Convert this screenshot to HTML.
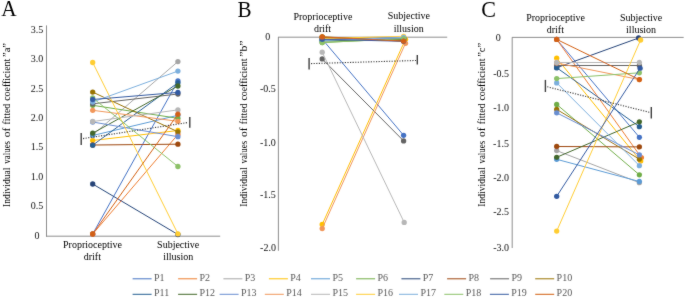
<!DOCTYPE html>
<html><head><meta charset="utf-8"><style>
html,body{margin:0;padding:0;background:#fff;}
body{width:685px;height:298px;overflow:hidden;}
svg{display:block;font-family:"Liberation Serif",serif;will-change:transform;}
</style></head><body>
<svg width="685" height="298" viewBox="0 0 685 298" font-family="Liberation Serif, serif">
<defs><filter id="bl" filterUnits="userSpaceOnUse" x="0" y="0" width="685" height="298"><feConvolveMatrix order="3" kernelMatrix="0.015 0.06 0.015 0.06 0.7 0.06 0.015 0.06 0.015" preserveAlpha="false"/></filter></defs>
<rect width="685" height="298" fill="#fff"/>
<g filter="url(#bl)">
<text transform="translate(1.2,16.2) scale(0.97,1.09)" font-size="22" fill="#000">A</text>
<line x1="46.5" y1="25.4" x2="46.5" y2="236.7" stroke="#8E8E8E" stroke-width="1" />
<line x1="46" y1="236.2" x2="220.2" y2="236.2" stroke="#8E8E8E" stroke-width="1" />
<text x="37" y="238.5" font-size="10" text-anchor="middle" fill="#111" >0</text>
<text x="37" y="209.13" font-size="10" text-anchor="middle" fill="#111" >0.5</text>
<text x="37" y="179.75" font-size="10" text-anchor="middle" fill="#111" >1.0</text>
<text x="37" y="150.38" font-size="10" text-anchor="middle" fill="#111" >1.5</text>
<text x="37" y="121.0" font-size="10" text-anchor="middle" fill="#111" >2.0</text>
<text x="37" y="91.63" font-size="10" text-anchor="middle" fill="#111" >2.5</text>
<text x="37" y="62.25" font-size="10" text-anchor="middle" fill="#111" >3.0</text>
<text x="37" y="32.88" font-size="10" text-anchor="middle" fill="#111" >3.5</text>
<text transform="translate(10.4,206.9) rotate(-90)" font-size="10" fill="#000"><tspan x="0" y="0" textLength="39.4" lengthAdjust="spacingAndGlyphs">Individual</tspan><tspan x="43.1" y="0" textLength="22.9" lengthAdjust="spacingAndGlyphs">values</tspan><tspan x="69.7" y="0" textLength="9.6" lengthAdjust="spacingAndGlyphs">of</tspan><tspan x="82.5" y="0" textLength="20.6" lengthAdjust="spacingAndGlyphs">fitted</tspan><tspan x="106.1" y="0" textLength="42.0" lengthAdjust="spacingAndGlyphs">coefficient</tspan><tspan x="149.9" y="0" textLength="14.0" lengthAdjust="spacingAndGlyphs">”a”</tspan></text>
<text x="92.5" y="248.1" font-size="10" text-anchor="middle" fill="#000" >Proprioceptive</text>
<text x="92.3" y="260.3" font-size="10" text-anchor="middle" fill="#000" >drift</text>
<text x="178.2" y="248.1" font-size="10" text-anchor="middle" fill="#000" >Subjective</text>
<text x="178.2" y="260.3" font-size="10" text-anchor="middle" fill="#000" >illusion</text>
<line x1="92.7" y1="234" x2="177.9" y2="81" stroke="#4472C4" stroke-width="1" />
<circle cx="92.7" cy="234" r="2.65" fill="#4472C4"/>
<circle cx="177.9" cy="81" r="2.65" fill="#4472C4"/>
<line x1="92.7" y1="234" x2="177.9" y2="134.5" stroke="#ED7D31" stroke-width="1" />
<circle cx="92.7" cy="234" r="2.65" fill="#ED7D31"/>
<circle cx="177.9" cy="134.5" r="2.65" fill="#ED7D31"/>
<line x1="92.7" y1="135" x2="177.9" y2="61.6" stroke="#A5A5A5" stroke-width="1" />
<circle cx="92.7" cy="135" r="2.65" fill="#A5A5A5"/>
<circle cx="177.9" cy="61.6" r="2.65" fill="#A5A5A5"/>
<line x1="92.7" y1="140.5" x2="177.9" y2="130.5" stroke="#FFC000" stroke-width="1" />
<circle cx="92.7" cy="140.5" r="2.65" fill="#FFC000"/>
<circle cx="177.9" cy="130.5" r="2.65" fill="#FFC000"/>
<line x1="92.7" y1="135.5" x2="177.9" y2="115.3" stroke="#5B9BD5" stroke-width="1" />
<circle cx="92.7" cy="135.5" r="2.65" fill="#5B9BD5"/>
<circle cx="177.9" cy="115.3" r="2.65" fill="#5B9BD5"/>
<line x1="92.7" y1="105.3" x2="177.9" y2="118.3" stroke="#70AD47" stroke-width="1" />
<circle cx="92.7" cy="105.3" r="2.65" fill="#70AD47"/>
<circle cx="177.9" cy="118.3" r="2.65" fill="#70AD47"/>
<line x1="92.7" y1="184" x2="177.9" y2="234.5" stroke="#264478" stroke-width="1" />
<circle cx="92.7" cy="184" r="2.65" fill="#264478"/>
<circle cx="177.9" cy="234.5" r="2.65" fill="#264478"/>
<line x1="92.7" y1="145" x2="177.9" y2="144.2" stroke="#9E480E" stroke-width="1" />
<circle cx="92.7" cy="145" r="2.65" fill="#9E480E"/>
<circle cx="177.9" cy="144.2" r="2.65" fill="#9E480E"/>
<line x1="92.7" y1="103.8" x2="177.9" y2="94" stroke="#636363" stroke-width="1" />
<circle cx="92.7" cy="103.8" r="2.65" fill="#636363"/>
<circle cx="177.9" cy="94" r="2.65" fill="#636363"/>
<line x1="92.7" y1="92.1" x2="177.9" y2="131.8" stroke="#997300" stroke-width="1" />
<circle cx="92.7" cy="92.1" r="2.65" fill="#997300"/>
<circle cx="177.9" cy="131.8" r="2.65" fill="#997300"/>
<line x1="92.7" y1="145.2" x2="177.9" y2="82.8" stroke="#255E91" stroke-width="1" />
<circle cx="92.7" cy="145.2" r="2.65" fill="#255E91"/>
<circle cx="177.9" cy="82.8" r="2.65" fill="#255E91"/>
<line x1="92.7" y1="133.2" x2="177.9" y2="86" stroke="#43682B" stroke-width="1" />
<circle cx="92.7" cy="133.2" r="2.65" fill="#43682B"/>
<circle cx="177.9" cy="86" r="2.65" fill="#43682B"/>
<line x1="92.7" y1="122" x2="177.9" y2="136.7" stroke="#698ED0" stroke-width="1" />
<circle cx="92.7" cy="122" r="2.65" fill="#698ED0"/>
<circle cx="177.9" cy="136.7" r="2.65" fill="#698ED0"/>
<line x1="92.7" y1="110.3" x2="177.9" y2="121.3" stroke="#F1975A" stroke-width="1" />
<circle cx="92.7" cy="110.3" r="2.65" fill="#F1975A"/>
<circle cx="177.9" cy="121.3" r="2.65" fill="#F1975A"/>
<line x1="92.7" y1="121.5" x2="177.9" y2="109.9" stroke="#B7B7B7" stroke-width="1" />
<circle cx="92.7" cy="121.5" r="2.65" fill="#B7B7B7"/>
<circle cx="177.9" cy="109.9" r="2.65" fill="#B7B7B7"/>
<line x1="92.7" y1="62.5" x2="177.9" y2="233.8" stroke="#FFCD33" stroke-width="1" />
<circle cx="92.7" cy="62.5" r="2.65" fill="#FFCD33"/>
<circle cx="177.9" cy="233.8" r="2.65" fill="#FFCD33"/>
<line x1="92.7" y1="102" x2="177.9" y2="71.1" stroke="#7CAFDD" stroke-width="1" />
<circle cx="92.7" cy="102" r="2.65" fill="#7CAFDD"/>
<circle cx="177.9" cy="71.1" r="2.65" fill="#7CAFDD"/>
<line x1="92.7" y1="97.9" x2="177.9" y2="166.5" stroke="#8CC168" stroke-width="1" />
<circle cx="92.7" cy="97.9" r="2.65" fill="#8CC168"/>
<circle cx="177.9" cy="166.5" r="2.65" fill="#8CC168"/>
<line x1="92.7" y1="99.5" x2="177.9" y2="92.4" stroke="#335AA1" stroke-width="1" />
<circle cx="92.7" cy="99.5" r="2.65" fill="#335AA1"/>
<circle cx="177.9" cy="92.4" r="2.65" fill="#335AA1"/>
<line x1="92.7" y1="234" x2="177.9" y2="114.2" stroke="#D26012" stroke-width="1" />
<circle cx="92.7" cy="234" r="2.65" fill="#D26012"/>
<circle cx="177.9" cy="114.2" r="2.65" fill="#D26012"/>
<line x1="83" y1="138.6" x2="188" y2="122.5" stroke="#3a3a3a" stroke-width="1.1" stroke-dasharray="1.2 1.4"/>
<line x1="81.2" y1="133" x2="81.2" y2="145" stroke="#404040" stroke-width="1.4" />
<line x1="189.8" y1="117" x2="189.8" y2="127.7" stroke="#404040" stroke-width="1.4" />
<text transform="translate(237.5,16.5) scale(0.96,1.09)" font-size="22" fill="#000">B</text>
<line x1="278.4" y1="37" x2="278.4" y2="250.8" stroke="#8E8E8E" stroke-width="1" />
<line x1="278" y1="37.2" x2="447.2" y2="37.2" stroke="#8E8E8E" stroke-width="1" />
<text x="267.8" y="39.9" font-size="10" text-anchor="middle" fill="#111" >0</text>
<text x="267.8" y="92.2" font-size="10" text-anchor="middle" fill="#111" >-0.5</text>
<text x="267.9" y="145.5" font-size="10" text-anchor="middle" fill="#111" >-1.0</text>
<text x="267.9" y="198.1" font-size="10" text-anchor="middle" fill="#111" >-1.5</text>
<text x="268" y="250.7" font-size="10" text-anchor="middle" fill="#111" >-2.0</text>
<text transform="translate(247.2,206.7) rotate(-90)" font-size="10" fill="#000"><tspan x="0" y="0" textLength="39.4" lengthAdjust="spacingAndGlyphs">Individual</tspan><tspan x="43.1" y="0" textLength="22.9" lengthAdjust="spacingAndGlyphs">values</tspan><tspan x="69.7" y="0" textLength="9.6" lengthAdjust="spacingAndGlyphs">of</tspan><tspan x="82.5" y="0" textLength="20.6" lengthAdjust="spacingAndGlyphs">fitted</tspan><tspan x="106.1" y="0" textLength="42.0" lengthAdjust="spacingAndGlyphs">coefficient</tspan><tspan x="149.9" y="0" textLength="16.3" lengthAdjust="spacingAndGlyphs">”b”</tspan></text>
<text x="322.9" y="19.8" font-size="10" text-anchor="middle" fill="#000" >Proprioceptive</text>
<text x="322.5" y="31.7" font-size="10" text-anchor="middle" fill="#000" >drift</text>
<text x="408.9" y="19.1" font-size="10" text-anchor="middle" fill="#000" >Subjective</text>
<text x="408.8" y="31.6" font-size="10" text-anchor="middle" fill="#000" >illusion</text>
<line x1="322.2" y1="39.1" x2="403.6" y2="135.3" stroke="#4472C4" stroke-width="1" />
<circle cx="322.2" cy="39.1" r="2.65" fill="#4472C4"/>
<circle cx="403.6" cy="135.3" r="2.65" fill="#4472C4"/>
<line x1="322.2" y1="37.2" x2="403.6" y2="41.3" stroke="#ED7D31" stroke-width="1" />
<circle cx="322.2" cy="37.2" r="2.65" fill="#ED7D31"/>
<circle cx="403.6" cy="41.3" r="2.65" fill="#ED7D31"/>
<line x1="322.2" y1="38" x2="403.6" y2="38" stroke="#A5A5A5" stroke-width="1" />
<circle cx="322.2" cy="38" r="2.65" fill="#A5A5A5"/>
<circle cx="403.6" cy="38" r="2.65" fill="#A5A5A5"/>
<line x1="322.2" y1="224.5" x2="405.5" y2="39.2" stroke="#FFC000" stroke-width="1" />
<circle cx="322.2" cy="224.5" r="2.65" fill="#FFC000"/>
<circle cx="405.5" cy="39.2" r="2.65" fill="#FFC000"/>
<line x1="322.2" y1="40" x2="403.6" y2="37.8" stroke="#5B9BD5" stroke-width="1" />
<circle cx="322.2" cy="40" r="2.65" fill="#5B9BD5"/>
<circle cx="403.6" cy="37.8" r="2.65" fill="#5B9BD5"/>
<line x1="322.2" y1="42.5" x2="403.6" y2="38.6" stroke="#70AD47" stroke-width="1" />
<circle cx="322.2" cy="42.5" r="2.65" fill="#70AD47"/>
<circle cx="403.6" cy="38.6" r="2.65" fill="#70AD47"/>
<line x1="322.2" y1="38.5" x2="403.6" y2="38" stroke="#264478" stroke-width="1" />
<circle cx="322.2" cy="38.5" r="2.65" fill="#264478"/>
<circle cx="403.6" cy="38" r="2.65" fill="#264478"/>
<line x1="322.2" y1="37.5" x2="403.6" y2="40.5" stroke="#9E480E" stroke-width="1" />
<circle cx="322.2" cy="37.5" r="2.65" fill="#9E480E"/>
<circle cx="403.6" cy="40.5" r="2.65" fill="#9E480E"/>
<line x1="322.2" y1="58.9" x2="403.6" y2="140.9" stroke="#636363" stroke-width="1" />
<circle cx="322.2" cy="58.9" r="2.65" fill="#636363"/>
<circle cx="403.6" cy="140.9" r="2.65" fill="#636363"/>
<line x1="322.2" y1="37" x2="403.6" y2="39.5" stroke="#997300" stroke-width="1" />
<circle cx="322.2" cy="37" r="2.65" fill="#997300"/>
<circle cx="403.6" cy="39.5" r="2.65" fill="#997300"/>
<line x1="322.2" y1="39.5" x2="403.6" y2="38" stroke="#255E91" stroke-width="1" />
<circle cx="322.2" cy="39.5" r="2.65" fill="#255E91"/>
<circle cx="403.6" cy="38" r="2.65" fill="#255E91"/>
<line x1="322.2" y1="41" x2="403.6" y2="38.8" stroke="#43682B" stroke-width="1" />
<circle cx="322.2" cy="41" r="2.65" fill="#43682B"/>
<circle cx="403.6" cy="38.8" r="2.65" fill="#43682B"/>
<line x1="322.2" y1="40" x2="403.6" y2="38.2" stroke="#698ED0" stroke-width="1" />
<circle cx="322.2" cy="40" r="2.65" fill="#698ED0"/>
<circle cx="403.6" cy="38.2" r="2.65" fill="#698ED0"/>
<line x1="322.2" y1="228.6" x2="405.5" y2="43.3" stroke="#F1975A" stroke-width="1" />
<circle cx="322.2" cy="228.6" r="2.65" fill="#F1975A"/>
<circle cx="405.5" cy="43.3" r="2.65" fill="#F1975A"/>
<line x1="322.2" y1="52.2" x2="404.2" y2="222.4" stroke="#B7B7B7" stroke-width="1" />
<circle cx="322.2" cy="52.2" r="2.65" fill="#B7B7B7"/>
<circle cx="404.2" cy="222.4" r="2.65" fill="#B7B7B7"/>
<line x1="322.2" y1="38.5" x2="403.6" y2="36.3" stroke="#FFCD33" stroke-width="1" />
<circle cx="322.2" cy="38.5" r="2.65" fill="#FFCD33"/>
<circle cx="403.6" cy="36.3" r="2.65" fill="#FFCD33"/>
<line x1="322.2" y1="40.5" x2="403.6" y2="37.4" stroke="#7CAFDD" stroke-width="1" />
<circle cx="322.2" cy="40.5" r="2.65" fill="#7CAFDD"/>
<circle cx="403.6" cy="37.4" r="2.65" fill="#7CAFDD"/>
<line x1="322.2" y1="42.5" x2="403.6" y2="38.7" stroke="#8CC168" stroke-width="1" />
<circle cx="322.2" cy="42.5" r="2.65" fill="#8CC168"/>
<circle cx="403.6" cy="38.7" r="2.65" fill="#8CC168"/>
<line x1="322.2" y1="39.3" x2="403.6" y2="41.3" stroke="#335AA1" stroke-width="1" />
<circle cx="322.2" cy="39.3" r="2.65" fill="#335AA1"/>
<circle cx="403.6" cy="41.3" r="2.65" fill="#335AA1"/>
<line x1="322.2" y1="36.9" x2="403.6" y2="41.1" stroke="#D26012" stroke-width="1" />
<circle cx="322.2" cy="36.9" r="2.65" fill="#D26012"/>
<circle cx="403.6" cy="41.1" r="2.65" fill="#D26012"/>
<line x1="311" y1="63.6" x2="416" y2="60.5" stroke="#3a3a3a" stroke-width="1.1" stroke-dasharray="1.2 1.4"/>
<line x1="309.1" y1="58.1" x2="309.1" y2="69.6" stroke="#404040" stroke-width="1.4" />
<line x1="417.3" y1="55.1" x2="417.3" y2="64.6" stroke="#404040" stroke-width="1.4" />
<text transform="translate(481.3,16.7) scale(1.0,1.09)" font-size="22" fill="#000">C</text>
<line x1="512.2" y1="37.2" x2="512.2" y2="248" stroke="#8E8E8E" stroke-width="1" />
<line x1="512" y1="37.4" x2="683.7" y2="37.4" stroke="#8E8E8E" stroke-width="1" />
<text x="498.2" y="40.7" font-size="10" text-anchor="middle" fill="#111" >0</text>
<text x="501.2" y="76.5" font-size="10" text-anchor="middle" fill="#111" >-0.5</text>
<text x="501.1" y="111.3" font-size="10" text-anchor="middle" fill="#111" >-1.0</text>
<text x="501" y="147.0" font-size="10" text-anchor="middle" fill="#111" >-1.5</text>
<text x="501.1" y="180.8" font-size="10" text-anchor="middle" fill="#111" >-2.0</text>
<text x="501.1" y="215.0" font-size="10" text-anchor="middle" fill="#111" >-2.5</text>
<text x="501.1" y="251.0" font-size="10" text-anchor="middle" fill="#111" >-3.0</text>
<text transform="translate(485.2,206.7) rotate(-90)" font-size="10" fill="#000"><tspan x="0" y="0" textLength="39.4" lengthAdjust="spacingAndGlyphs">Individual</tspan><tspan x="43.1" y="0" textLength="22.9" lengthAdjust="spacingAndGlyphs">values</tspan><tspan x="69.7" y="0" textLength="9.6" lengthAdjust="spacingAndGlyphs">of</tspan><tspan x="82.5" y="0" textLength="20.6" lengthAdjust="spacingAndGlyphs">fitted</tspan><tspan x="106.1" y="0" textLength="42.0" lengthAdjust="spacingAndGlyphs">coefficient</tspan><tspan x="149.9" y="0" textLength="14.0" lengthAdjust="spacingAndGlyphs">”c”</tspan></text>
<text x="555.6" y="21.1" font-size="10" text-anchor="middle" fill="#000" >Proprioceptive</text>
<text x="555.3" y="33" font-size="10" text-anchor="middle" fill="#000" >drift</text>
<text x="641.1" y="20.9" font-size="10" text-anchor="middle" fill="#000" >Subjective</text>
<text x="641.1" y="33" font-size="10" text-anchor="middle" fill="#000" >illusion</text>
<line x1="556.7" y1="39.4" x2="639.4" y2="137.3" stroke="#4472C4" stroke-width="1" />
<circle cx="556.7" cy="39.4" r="2.65" fill="#4472C4"/>
<circle cx="639.4" cy="137.3" r="2.65" fill="#4472C4"/>
<line x1="556.7" y1="39.4" x2="641.4" y2="157.6" stroke="#ED7D31" stroke-width="1" />
<circle cx="556.7" cy="39.4" r="2.65" fill="#ED7D31"/>
<circle cx="641.4" cy="157.6" r="2.65" fill="#ED7D31"/>
<line x1="556.7" y1="150.6" x2="639.4" y2="182.7" stroke="#A5A5A5" stroke-width="1" />
<circle cx="556.7" cy="150.6" r="2.65" fill="#A5A5A5"/>
<circle cx="639.4" cy="182.7" r="2.65" fill="#A5A5A5"/>
<line x1="556.7" y1="58.2" x2="640.7" y2="161.1" stroke="#FFC000" stroke-width="1" />
<circle cx="556.7" cy="58.2" r="2.65" fill="#FFC000"/>
<circle cx="640.7" cy="161.1" r="2.65" fill="#FFC000"/>
<line x1="556.7" y1="159.3" x2="639.4" y2="181.5" stroke="#5B9BD5" stroke-width="1" />
<circle cx="556.7" cy="159.3" r="2.65" fill="#5B9BD5"/>
<circle cx="639.4" cy="181.5" r="2.65" fill="#5B9BD5"/>
<line x1="556.7" y1="104.4" x2="639.4" y2="174.8" stroke="#70AD47" stroke-width="1" />
<circle cx="556.7" cy="104.4" r="2.65" fill="#70AD47"/>
<circle cx="639.4" cy="174.8" r="2.65" fill="#70AD47"/>
<line x1="556.7" y1="67.7" x2="638.6" y2="38" stroke="#264478" stroke-width="1" />
<circle cx="556.7" cy="67.7" r="2.65" fill="#264478"/>
<circle cx="638.6" cy="38" r="2.65" fill="#264478"/>
<line x1="556.7" y1="146.5" x2="639.4" y2="146.9" stroke="#9E480E" stroke-width="1" />
<circle cx="556.7" cy="146.5" r="2.65" fill="#9E480E"/>
<circle cx="639.4" cy="146.9" r="2.65" fill="#9E480E"/>
<line x1="556.7" y1="65.5" x2="639.4" y2="65.5" stroke="#636363" stroke-width="1" />
<circle cx="556.7" cy="65.5" r="2.65" fill="#636363"/>
<circle cx="639.4" cy="65.5" r="2.65" fill="#636363"/>
<line x1="556.7" y1="109.4" x2="639.4" y2="159.2" stroke="#997300" stroke-width="1" />
<circle cx="556.7" cy="109.4" r="2.65" fill="#997300"/>
<circle cx="639.4" cy="159.2" r="2.65" fill="#997300"/>
<line x1="556.7" y1="67.7" x2="639.4" y2="126.7" stroke="#255E91" stroke-width="1" />
<circle cx="556.7" cy="67.7" r="2.65" fill="#255E91"/>
<circle cx="639.4" cy="126.7" r="2.65" fill="#255E91"/>
<line x1="556.7" y1="157.3" x2="639.4" y2="121.8" stroke="#43682B" stroke-width="1" />
<circle cx="556.7" cy="157.3" r="2.65" fill="#43682B"/>
<circle cx="639.4" cy="121.8" r="2.65" fill="#43682B"/>
<line x1="556.7" y1="112.8" x2="639.4" y2="154.9" stroke="#698ED0" stroke-width="1" />
<circle cx="556.7" cy="112.8" r="2.65" fill="#698ED0"/>
<circle cx="639.4" cy="154.9" r="2.65" fill="#698ED0"/>
<line x1="556.7" y1="63" x2="639.4" y2="79.6" stroke="#F1975A" stroke-width="1" />
<circle cx="556.7" cy="63" r="2.65" fill="#F1975A"/>
<circle cx="639.4" cy="79.6" r="2.65" fill="#F1975A"/>
<line x1="556.7" y1="62.5" x2="639.4" y2="62.5" stroke="#B7B7B7" stroke-width="1" />
<circle cx="556.7" cy="62.5" r="2.65" fill="#B7B7B7"/>
<circle cx="639.4" cy="62.5" r="2.65" fill="#B7B7B7"/>
<line x1="556.7" y1="231.1" x2="640.6" y2="40" stroke="#FFCD33" stroke-width="1" />
<circle cx="556.7" cy="231.1" r="2.65" fill="#FFCD33"/>
<circle cx="640.6" cy="40" r="2.65" fill="#FFCD33"/>
<line x1="556.7" y1="82.9" x2="639.4" y2="165.7" stroke="#7CAFDD" stroke-width="1" />
<circle cx="556.7" cy="82.9" r="2.65" fill="#7CAFDD"/>
<circle cx="639.4" cy="165.7" r="2.65" fill="#7CAFDD"/>
<line x1="556.7" y1="78.6" x2="639.4" y2="72.8" stroke="#8CC168" stroke-width="1" />
<circle cx="556.7" cy="78.6" r="2.65" fill="#8CC168"/>
<circle cx="639.4" cy="72.8" r="2.65" fill="#8CC168"/>
<line x1="556.7" y1="196.3" x2="640.1" y2="68.2" stroke="#335AA1" stroke-width="1" />
<circle cx="556.7" cy="196.3" r="2.65" fill="#335AA1"/>
<circle cx="640.1" cy="68.2" r="2.65" fill="#335AA1"/>
<line x1="556.7" y1="39.4" x2="639.4" y2="79.6" stroke="#D26012" stroke-width="1" />
<circle cx="556.7" cy="39.4" r="2.65" fill="#D26012"/>
<circle cx="639.4" cy="79.6" r="2.65" fill="#D26012"/>
<line x1="547.2" y1="86.8" x2="649.5" y2="112.3" stroke="#3a3a3a" stroke-width="1.1" stroke-dasharray="1.2 1.4"/>
<line x1="545.4" y1="79.9" x2="545.4" y2="92" stroke="#404040" stroke-width="1.4" />
<line x1="651.3" y1="107.1" x2="651.3" y2="118.4" stroke="#404040" stroke-width="1.4" />
<line x1="132.6" y1="278.8" x2="151.6" y2="278.8" stroke="#4472C4" stroke-width="1" />
<text x="154.0" y="280.6" font-size="10" text-anchor="start" fill="#595959" >P1</text>
<line x1="178.1" y1="278.8" x2="197.1" y2="278.8" stroke="#ED7D31" stroke-width="1" />
<text x="199.5" y="280.6" font-size="10" text-anchor="start" fill="#595959" >P2</text>
<line x1="223.4" y1="278.8" x2="242.4" y2="278.8" stroke="#A5A5A5" stroke-width="1" />
<text x="244.8" y="280.6" font-size="10" text-anchor="start" fill="#595959" >P3</text>
<line x1="268.9" y1="278.8" x2="287.9" y2="278.8" stroke="#FFC000" stroke-width="1" />
<text x="290.3" y="280.6" font-size="10" text-anchor="start" fill="#595959" >P4</text>
<line x1="311" y1="278.8" x2="330" y2="278.8" stroke="#5B9BD5" stroke-width="1" />
<text x="332.4" y="280.6" font-size="10" text-anchor="start" fill="#595959" >P5</text>
<line x1="356.1" y1="278.8" x2="375.1" y2="278.8" stroke="#70AD47" stroke-width="1" />
<text x="377.5" y="280.6" font-size="10" text-anchor="start" fill="#595959" >P6</text>
<line x1="401.4" y1="278.8" x2="420.4" y2="278.8" stroke="#264478" stroke-width="1" />
<text x="422.8" y="280.6" font-size="10" text-anchor="start" fill="#595959" >P7</text>
<line x1="447.1" y1="278.8" x2="466.1" y2="278.8" stroke="#9E480E" stroke-width="1" />
<text x="468.5" y="280.6" font-size="10" text-anchor="start" fill="#595959" >P8</text>
<line x1="490.1" y1="278.8" x2="509.1" y2="278.8" stroke="#636363" stroke-width="1" />
<text x="511.5" y="280.6" font-size="10" text-anchor="start" fill="#595959" >P9</text>
<line x1="535.2" y1="278.8" x2="554.2" y2="278.8" stroke="#997300" stroke-width="1" />
<text x="556.6" y="280.6" font-size="10" text-anchor="start" fill="#595959" >P10</text>
<line x1="132.6" y1="294.3" x2="151.6" y2="294.3" stroke="#255E91" stroke-width="1" />
<text x="154.0" y="295.9" font-size="10" text-anchor="start" fill="#595959" >P11</text>
<line x1="178.1" y1="294.3" x2="197.1" y2="294.3" stroke="#43682B" stroke-width="1" />
<text x="199.5" y="295.9" font-size="10" text-anchor="start" fill="#595959" >P12</text>
<line x1="219.6" y1="294.3" x2="238.6" y2="294.3" stroke="#698ED0" stroke-width="1" />
<text x="241.0" y="295.9" font-size="10" text-anchor="start" fill="#595959" >P13</text>
<line x1="264.8" y1="294.3" x2="283.8" y2="294.3" stroke="#F1975A" stroke-width="1" />
<text x="286.2" y="295.9" font-size="10" text-anchor="start" fill="#595959" >P14</text>
<line x1="311" y1="294.3" x2="330" y2="294.3" stroke="#B7B7B7" stroke-width="1" />
<text x="332.4" y="295.9" font-size="10" text-anchor="start" fill="#595959" >P15</text>
<line x1="356.1" y1="294.3" x2="375.1" y2="294.3" stroke="#FFCD33" stroke-width="1" />
<text x="377.5" y="295.9" font-size="10" text-anchor="start" fill="#595959" >P16</text>
<line x1="399" y1="294.3" x2="418" y2="294.3" stroke="#7CAFDD" stroke-width="1" />
<text x="420.4" y="295.9" font-size="10" text-anchor="start" fill="#595959" >P17</text>
<line x1="444.3" y1="294.3" x2="463.3" y2="294.3" stroke="#8CC168" stroke-width="1" />
<text x="465.7" y="295.9" font-size="10" text-anchor="start" fill="#595959" >P18</text>
<line x1="489.9" y1="294.3" x2="508.9" y2="294.3" stroke="#335AA1" stroke-width="1" />
<text x="511.3" y="295.9" font-size="10" text-anchor="start" fill="#595959" >P19</text>
<line x1="535.2" y1="294.3" x2="554.2" y2="294.3" stroke="#D26012" stroke-width="1" />
<text x="556.6" y="295.9" font-size="10" text-anchor="start" fill="#595959" >P20</text>
</g>
</svg>
</body></html>
